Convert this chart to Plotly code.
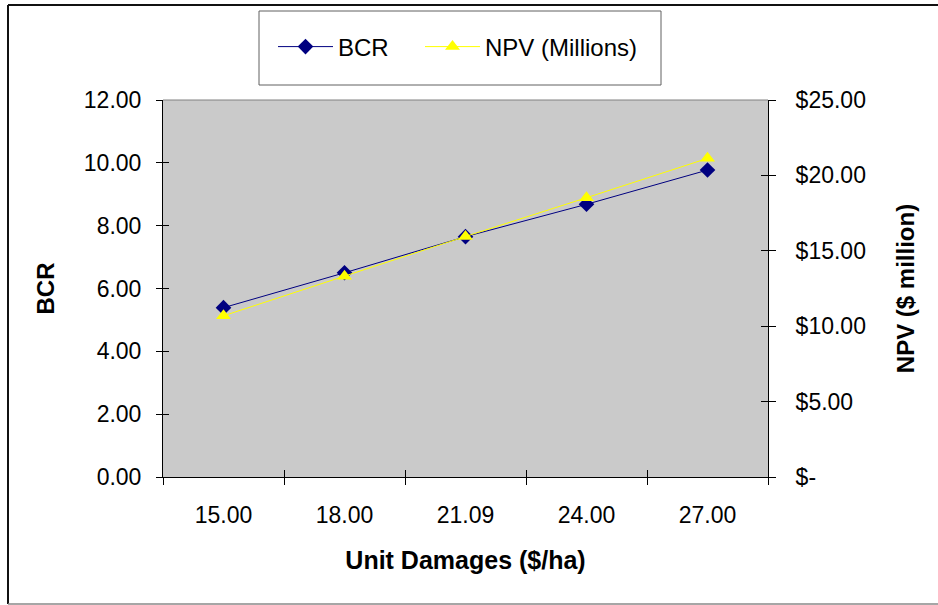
import plotly.graph_objects as go

categories = ["15.00", "18.00", "21.09", "24.00", "27.00"]
bcr = [5.39, 6.50, 7.65, 8.68, 9.77]
npv = [10.69, 13.32, 15.95, 18.52, 21.13]
bcr_ticks = [0, 2, 4, 6, 8, 10, 12]
npv_ticks = [0, 5, 10, 15, 20, 25]
npv_ticktext = ["$-", "$5.00", "$10.00", "$15.00", "$20.00", "$25.00"]

W, H = 938, 605
L, R, T, B = 163, 170, 100, 128
pw, ph = W - L - R, H - T - B

def px(x):
    return (x - L) / pw

def py(y):
    return (H - B - y) / ph

FONT = "Liberation Sans, Arial, sans-serif"

fig = go.Figure()
fig.add_trace(go.Scatter(
    x=categories, y=bcr, name="BCR", mode="lines+markers",
    line=dict(color="#000080", width=1),
    marker=dict(symbol="diamond", size=12, color="#000080"),
    xaxis="x", yaxis="y", legend="legend"))
fig.add_trace(go.Scatter(
    x=categories, y=npv, name="NPV (Millions)", mode="lines+markers",
    line=dict(color="#FFFF00", width=1),
    marker=dict(symbol="triangle-up", size=13, color="#FFFF00"),
    xaxis="x", yaxis="y2", legend="legend2"))

tickfont = dict(family=FONT, size=23, color="black")
titlefont = dict(family=FONT, size=24, color="black", weight="bold")
legfont = dict(family=FONT, size=24, color="black")

fig.update_layout(
    width=W, height=H,
    margin=dict(l=L, r=R, t=T, b=B),
    paper_bgcolor="white", plot_bgcolor="#CACACA",
    showlegend=True,
    legend=dict(orientation="h", x=px(273), y=py(47), xanchor="left", yanchor="middle",
                font=legfont, bgcolor="rgba(0,0,0,0)", borderwidth=0, itemwidth=55),
    legend2=dict(orientation="h", x=px(420), y=py(47), xanchor="left", yanchor="middle",
                 font=legfont, bgcolor="rgba(0,0,0,0)", borderwidth=0, itemwidth=55),
    xaxis=dict(type="category", range=[-0.5, 4.5], tickson="boundaries",
               ticks="outside", ticklen=7, tickcolor="black", tickwidth=1,
               showline=True, linecolor="black", linewidth=1, showgrid=False,
               tickfont=tickfont, ticklabelstandoff=17,
               title=dict(text="Unit Damages ($/ha)",
                          font=dict(family=FONT, size=25, color="black", weight="bold"),
                          standoff=24),
               zeroline=False),
    yaxis=dict(range=[0, 12], tickvals=bcr_ticks, tickformat=".2f",
               ticks="outside", ticklen=6, tickcolor="black",
               showline=True, linecolor="black", linewidth=1, showgrid=False,
               tickfont=tickfont, ticklabelstandoff=10,
               title=dict(text="BCR", font=titlefont, standoff=22),
               zeroline=False),
    yaxis2=dict(range=[0, 25], tickvals=npv_ticks, ticktext=npv_ticktext,
                overlaying="y", side="right", anchor="x",
                ticks="outside", ticklen=7, tickcolor="black",
                showline=True, linecolor="black", linewidth=1, showgrid=False,
                tickfont=tickfont, ticklabelstandoff=15,
                title=dict(text="NPV ($ million)", font=titlefont, standoff=32),
                zeroline=False),
    # inside halves of the crossing tick marks
    xaxis2=dict(overlaying="x", range=[-0.5, 4.5], tickvals=[-0.5, 0.5, 1.5, 2.5, 3.5, 4.5],
                ticks="inside", ticklen=7, tickcolor="black", showticklabels=False,
                showline=False, showgrid=False, zeroline=False, anchor="y"),
    yaxis3=dict(overlaying="y", range=[0, 12], tickvals=bcr_ticks, ticks="inside",
                ticklen=6, tickcolor="black", showticklabels=False, showline=False,
                showgrid=False, zeroline=False, anchor="x"),
    yaxis4=dict(overlaying="y", side="right", range=[0, 25], tickvals=npv_ticks,
                ticks="inside", ticklen=7, tickcolor="black", showticklabels=False,
                showline=False, showgrid=False, zeroline=False, anchor="x"),
)

# invisible helper traces so the overlay tick axes render
fig.add_trace(go.Scatter(x=[0], y=[0], xaxis="x2", yaxis="y3", showlegend=False,
                         mode="markers", marker=dict(opacity=0), hoverinfo="skip"))
fig.add_trace(go.Scatter(x=[0], y=[0], xaxis="x2", yaxis="y4", showlegend=False,
                         mode="markers", marker=dict(opacity=0), hoverinfo="skip"))

shapes = [
    dict(type="line", xref="paper", yref="paper", x0=0, x1=1, y0=1, y1=1,
         line=dict(color="#808080", width=1)),
    dict(type="rect", xref="paper", yref="paper", x0=px(259), x1=px(661), y0=py(85), y1=py(11),
         line=dict(color="#606060", width=1), fillcolor="white", layer="below"),
    dict(type="line", xref="paper", yref="paper", x0=px(8), x1=px(945), y0=py(5), y1=py(5),
         line=dict(color="#111111", width=2)),
    dict(type="line", xref="paper", yref="paper", x0=px(8), x1=px(8), y0=py(5), y1=py(604),
         line=dict(color="#111111", width=2)),
    dict(type="line", xref="paper", yref="paper", x0=px(8), x1=px(945), y0=py(604), y1=py(604),
         line=dict(color="#888888", width=1.5)),
]
fig.update_layout(shapes=shapes)

fig.write_html("out.html", config={"displayModeBar": False},
               post_script="document.body.style.margin='0px';document.body.style.overflow='hidden';")
